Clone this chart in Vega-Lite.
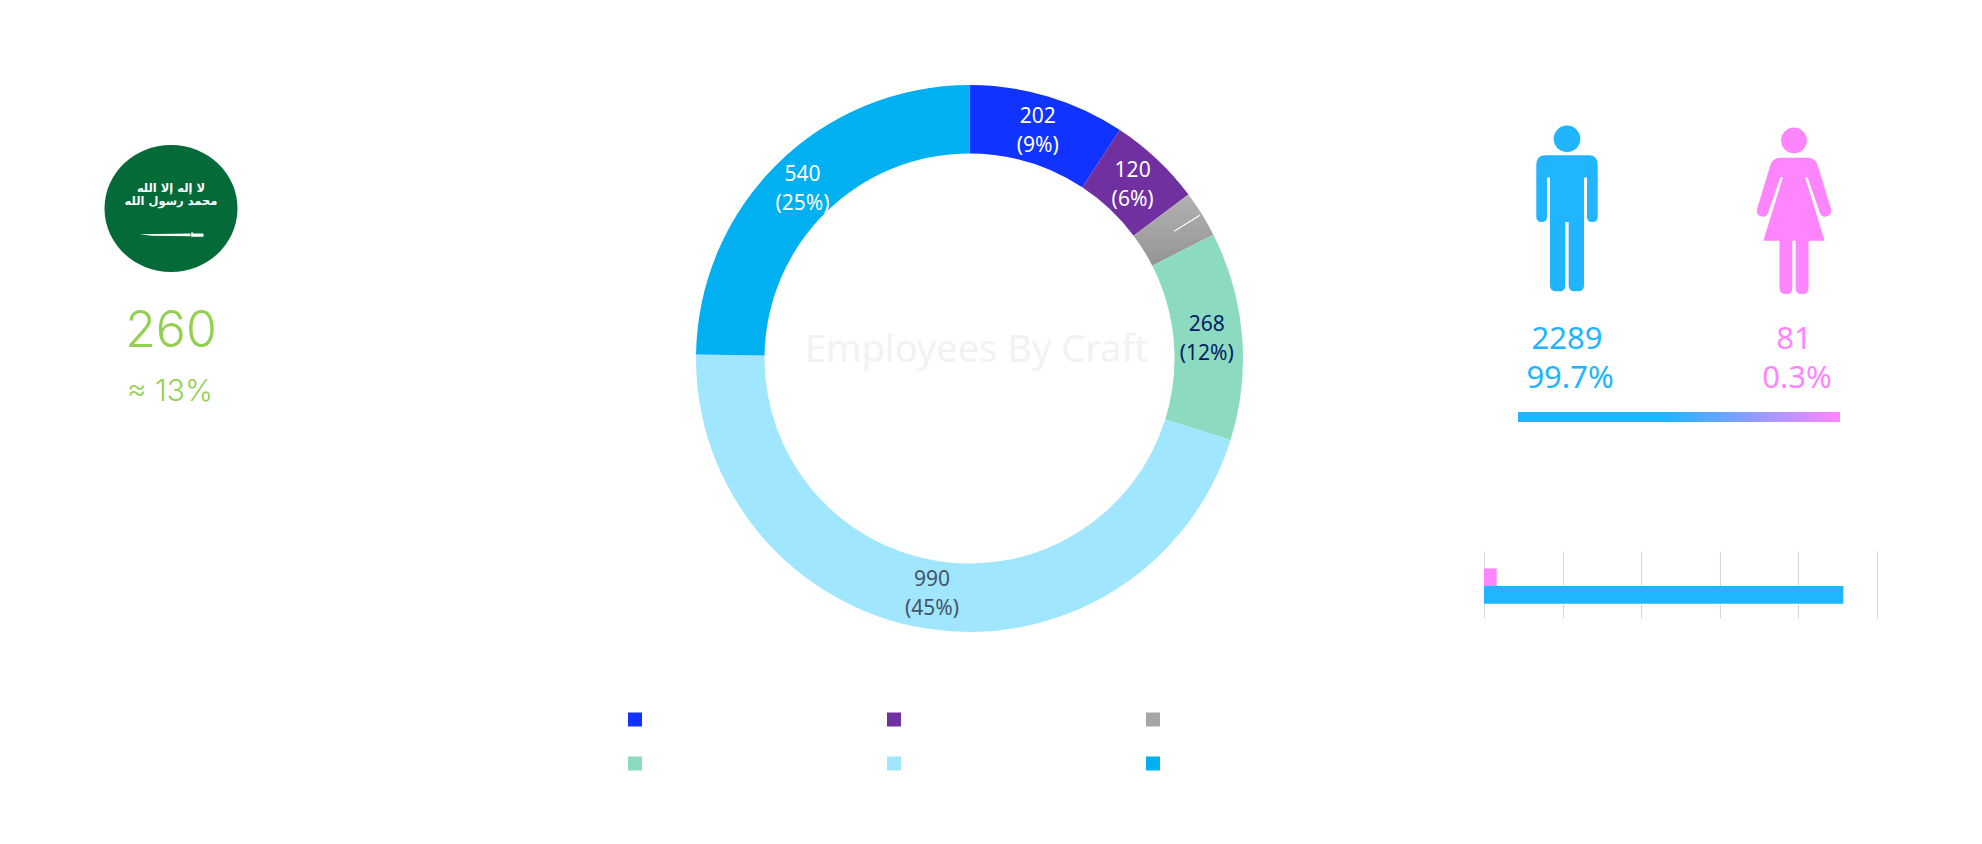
{"$schema":"https://vega.github.io/schema/vega-lite/v6.json","padding":0,"background":"white","config":{"view":{"stroke":null},"font":"Noto Sans"},"bounds":"flush","spacing":115,"hconcat":[
{"width":342,"height":417,"data":{"values":[{"country":"Saudi Arabia","count":"260","share":"≈ 13%","motto1":"لا إله إلا الله","motto2":"محمد رسول الله"}]},"layer":[
{"mark":{"type":"point","filled":true,"size":17689,"color":"#036a38","opacity":1,"strokeWidth":0,"shape":"M-1 0 A1 .955 0 1 1 1 0 A1 .955 0 1 1 -1 0Z"},"encoding":{}},
{"mark":{"type":"text","font":"DejaVu Sans","fontWeight":"bold","fontSize":11.5,"color":"white","dy":-20},"encoding":{"text":{"field":"motto1"}}},
{"mark":{"type":"text","font":"DejaVu Sans","fontWeight":"bold","fontSize":11.5,"color":"white","dy":-7},"encoding":{"text":{"field":"motto2"}}},
{"mark":{"type":"point","filled":true,"size":16900,"color":"white","opacity":1,"strokeWidth":0,"shape":"M-.49 .395 L.30 .385 L.30 .425 L-.30 .42 Z M.31 .37 L.34 .37 L.34 .385 L.50 .385 L.50 .435 L.31 .435 Z"},"encoding":{}},
{"mark":{"type":"text","fontSize":50,"fontWeight":300,"font":"Inter","color":"#92d050","dy":123},"encoding":{"text":{"field":"count"}}},
{"mark":{"type":"text","fontSize":30,"fontWeight":300,"font":"Inter","color":"#92d050","dy":183,"dx":-1},"encoding":{"text":{"field":"share"}}}
]},
{"bounds":"flush","spacing":2,"hconcat":[
{"width":1025,"height":717,"data":{"values":[
{"craft":"Craft 1","rank":1,"value":202,"line1":"202","line2":"(9%)"},
{"craft":"Craft 2","rank":2,"value":120,"line1":"120","line2":"(6%)"},
{"craft":"Craft 3","rank":3,"value":60,"line1":"","line2":""},
{"craft":"Craft 4","rank":4,"value":268,"line1":"268","line2":"(12%)"},
{"craft":"Craft 5","rank":5,"value":990,"line1":"990","line2":"(45%)"},
{"craft":"Craft 6","rank":6,"value":540,"line1":"540","line2":"(25%)"}
]},
"resolve":{"scale":{"color":"independent"}},
"layer":[
{"mark":{"type":"arc","radius":273.5,"radius2":205},"encoding":{"theta":{"field":"value","type":"quantitative","stack":true,"scale":{"domain":[0,2180]}},"order":{"field":"rank"},"color":{"field":"craft","type":"nominal","scale":{"domain":["Craft 1","Craft 2","Craft 3","Craft 4","Craft 5","Craft 6"],"range":["#1033ff","#7030a0","#a6a6a6","#8cdbc1","#a1e6ff","#00b0f0"]},"legend":{"orient":"none","direction":"horizontal","legendX":171,"legendY":712.5,"columns":3,"columnPadding":241,"rowPadding":30,"symbolType":"square","symbolSize":196,"symbolStrokeWidth":0,"title":null,"labelExpr":"''"},"condition":{"test":"datum.craft==='Craft 3'","value":{"gradient":"linear","x1":0,"x2":0,"y1":0,"y2":1,"stops":[{"offset":0,"color":"#b2b2b2"},{"offset":1,"color":"#949494"}]}}}}},
{"data":{"values":[{"at":352}]},"mark":{"type":"arc","radius":271,"radius2":241,"stroke":"white","strokeWidth":1,"fillOpacity":0},"encoding":{"theta":{"field":"at","type":"quantitative","scale":{"domain":[0,2180]}},"theta2":{"field":"at"}}},
{"mark":{"type":"text","radius":238,"fontSize":21,"dy":-14},"encoding":{"theta":{"field":"value","type":"quantitative","stack":true,"scale":{"domain":[0,2180]}},"order":{"field":"rank"},"text":{"field":"line1"},"color":{"field":"craft","type":"nominal","legend":null,"scale":{"domain":["Craft 1","Craft 2","Craft 3","Craft 4","Craft 5","Craft 6"],"range":["#ffffff","#ffffff","#ffffff","#002060","#44546a","#ffffff"]}}}},
{"mark":{"type":"text","radius":238,"fontSize":21,"dy":15},"encoding":{"theta":{"field":"value","type":"quantitative","stack":true,"scale":{"domain":[0,2180]}},"order":{"field":"rank"},"text":{"field":"line2"},"color":{"field":"craft","type":"nominal","legend":null,"scale":{"domain":["Craft 1","Craft 2","Craft 3","Craft 4","Craft 5","Craft 6"],"range":["#ffffff","#ffffff","#ffffff","#002060","#44546a","#ffffff"]}}}},
{"data":{"values":[{"title":"Employees By Craft"}]},"mark":{"type":"text","fontSize":38,"color":"#f2f2f2","dx":7,"dy":-8},"encoding":{"text":{"field":"title"}}}
]},
{"spacing":129,"vconcat":[
{"bounds":"flush","spacing":0,"vconcat":[
{"width":498,"height":412,"data":{"values":[{"gender":"Male","count":"2289","share":"99.7%"},{"gender":"Female","count":"81","share":"0.3%"}]},
"encoding":{"x":{"field":"gender","type":"nominal","axis":null,"scale":{"type":"point","padding":0,"domain":["Male","Female"],"range":[83,310]}},"color":{"field":"gender","type":"nominal","legend":null,"scale":{"domain":["Male","Female"],"range":["#21b5ff","#ff85ff"]}}},
"layer":[
{"mark":{"type":"point","filled":true,"size":27556,"opacity":1,"strokeWidth":0},"encoding":{"shape":{"field":"gender","type":"nominal","legend":null,"scale":{"domain":["Male","Female"],"range":["M-.161 -.81 A.161 .161 0 1 1 .161 -.81 A.161 .161 0 1 1 -.161 -.81Z M-.26 -.61 L.26 -.61 Q.37 -.61 .37 -.49 L.37 .13 Q.37 .194 .305 .194 Q.24 .194 .24 .13 L.24 -.344 L.205 -.344 L.205 .957 Q.205 1.027 .13 1.027 L.09 1.027 Q.02 1.027 .02 .957 L.02 .194 L-.02 .194 L-.02 .957 Q-.02 1.027 -.09 1.027 L-.13 1.027 Q-.205 1.027 -.205 .957 L-.205 -.344 L-.24 -.344 L-.24 .13 Q-.24 .194 -.305 .194 Q-.37 .194 -.37 .13 L-.37 -.49 Q-.37 -.61 -.26 -.61 Z","M-.155 -.79 A.155 .155 0 1 1 .155 -.79 A.155 .155 0 1 1 -.155 -.79Z M-.173 -.581 L.173 -.581 Q.27 -.581 .30 -.443 L.445 .037 Q.46 .107 .39 .127 Q.33 .137 .31 .077 L.165 -.343 L.135 -.343 L.369 .419 L.175 .419 L.175 .987 Q.175 1.061 .10 1.061 L.09 1.061 Q.02 1.061 .02 .987 L.02 .419 L-.02 .419 L-.02 .987 Q-.02 1.061 -.09 1.061 L-.10 1.061 Q-.175 1.061 -.175 .987 L-.175 .419 L-.369 .419 L-.135 -.343 L-.165 -.343 L-.31 .077 Q-.33 .137 -.39 .127 Q-.46 .107 -.445 .037 L-.30 -.443 Q-.27 -.581 -.173 -.581 Z"]}}}},
{"mark":{"type":"text","fontSize":31,"dy":134},"encoding":{"text":{"field":"count"}}},
{"mark":{"type":"text","fontSize":31,"dy":173,"dx":3},"encoding":{"text":{"field":"share"}}}
]},
{"width":498,"height":10,"data":{"values":[{"from":0,"to":100}]},"mark":{"type":"rect","color":{"gradient":"linear","x1":0,"x2":1,"y1":0,"y2":0,"stops":[{"offset":0,"color":"#21b5ff"},{"offset":0.46,"color":"#21b5ff"},{"offset":1,"color":"#ff85ff"}]}},"encoding":{"x":{"field":"from","type":"quantitative","axis":null,"scale":{"domain":[0,100],"range":[34,356]}},"x2":{"field":"to"}}}
]},
{"width":392.5,"height":67,"data":{"values":[{"gender":"Female","count":81},{"gender":"Male","count":2289}]},"mark":{"type":"bar"},"encoding":{"x":{"field":"count","type":"quantitative","scale":{"domain":[0,2500],"nice":false},"axis":{"values":[0,500,1000,1500,2000,2500],"grid":true,"gridColor":"#d9d9d9","gridWidth":1.2,"labels":false,"ticks":false,"domain":false,"title":null}},"y":{"field":"gender","type":"nominal","axis":null,"scale":{"domain":["Female","Male"],"paddingInner":0,"paddingOuter":0.9,"align":0.55}},"color":{"field":"gender","type":"nominal","legend":null,"scale":{"domain":["Male","Female"],"range":["#21b5ff","#ff85ff"]}}}}
]}
]}
]}
